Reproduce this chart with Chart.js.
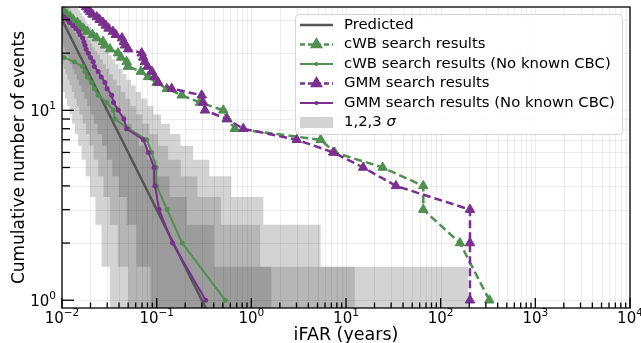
<!DOCTYPE html>
<html>
<head>
<meta charset="utf-8">
<script src="https://cdn.jsdelivr.net/npm/chart.js@4.4.0/dist/chart.umd.min.js"></script>
<style>
  html, body { margin: 0; padding: 0; background: #fff; }
  #wrap { width: 641px; height: 343px; }
</style>
</head>
<body>
<div id="wrap"><canvas id="c" width="641" height="343"></canvas></div>
<script>
// ---- data (x = iFAR in years, y = cumulative count) ----
const predIfar  = [0.01, 0.35];
const predCount = [30, 0.857];

// iFAR of the N-th loudest event, N = 1, 2, 3, ...
const cwbIfar = [327, 160, 65.5, 65.5, 24.4, 7.6, 5.4, 0.67, 0.56, 0.506, 0.287, 0.184, 0.128, 0.10,
  0.081, 0.068, 0.0497, 0.0482, 0.042, 0.0391, 0.0321, 0.0285, 0.0271, 0.0233, 0.021, 0.0185,
  0.0168, 0.0155, 0.0145, 0.0131, 0.0122, 0.0112, 0.0105, 0.0098];
const cwbNoCbcIfar = [0.53, 0.186, 0.129, 0.100, 0.099, 0.0885, 0.0785, 0.0502, 0.0363, 0.0348,
  0.0297, 0.0241, 0.022, 0.0205, 0.0185, 0.0175, 0.0165, 0.0135, 0.0105, 0.0095];
const gmmIfar = [204, 204, 204, 33.7, 15.2, 7.34, 3.02, 0.822, 0.549, 0.324, 0.31, 0.299, 0.144,
  0.104, 0.095, 0.089, 0.08, 0.075, 0.072, 0.0695, 0.05, 0.0463, 0.045, 0.043, 0.037, 0.0345,
  0.031, 0.029, 0.0271, 0.025, 0.0233, 0.021, 0.0198, 0.019, 0.018, 0.017];
const gmmNoCbcIfar = [0.33, 0.147, 0.106, 0.096, 0.094, 0.0816, 0.0722, 0.0482, 0.045, 0.0393,
  0.035, 0.0335, 0.03, 0.0284, 0.026, 0.0241, 0.022, 0.0214, 0.02, 0.019, 0.018, 0.0175, 0.017,
  0.0165, 0.0155, 0.015, 0.014, 0.013, 0.012, 0.0115, 0.0105, 0.0098];

// background bands: for count level n the band spans iFAR [left, right]
const levels = [1, 2, 3, 4, 5, 6, 7, 8, 9, 10, 11, 12, 13, 14, 15, 16, 17, 18, 19, 20, 21, 22, 23,
  24, 25, 26, 27, 28, 29, 30, 31, 32, 33, 34, 35, 36];
const sig1Left = [0.0864, 0.0614, 0.0482, 0.0398, 0.0340, 0.0297, 0.0265, 0.0238, 0.0217, 0.0200,
  0.0185, 0.0172, 0.0161, 0.0151, 0.0143, 0.0135, 0.0128, 0.0122, 0.0117, 0.0112, 0.0107, 0.0103,
  0.0099, 0.0095, 0.0092, 0.0089, 0.0086, 0.0083, 0.0081, 0.0078, 0.0076, 0.0074, 0.0072, 0.0070,
  0.0068, 0.0066];
const sig1Right = [1.64, 0.403, 0.208, 0.137, 0.100, 0.0787, 0.0645, 0.0545, 0.0471, 0.0414, 0.0368,
  0.0332, 0.0302, 0.0277, 0.0255, 0.0237, 0.0221, 0.0207, 0.0194, 0.0183, 0.0173, 0.0164, 0.0156,
  0.0149, 0.0142, 0.0136, 0.0131, 0.0125, 0.0121, 0.0116, 0.0112, 0.0108, 0.0104, 0.0101, 0.0098,
  0.0095];
const sig2Left = [0.0502, 0.0388, 0.0320, 0.0274, 0.0241, 0.0216, 0.0195, 0.0179, 0.0165, 0.0153,
  0.0143, 0.0135, 0.0127, 0.0120, 0.0114, 0.0109, 0.0104, 0.0099, 0.0095, 0.0092, 0.0088, 0.0085,
  0.0082, 0.0079, 0.0077, 0.0074, 0.0072, 0.0070, 0.0068, 0.0066, 0.0064, 0.0063, 0.0061, 0.0060,
  0.0058, 0.0057];
const sig2Right = [12.4, 1.24, 0.478, 0.269, 0.180, 0.132, 0.103, 0.0840, 0.0704, 0.0604, 0.0528,
  0.0467, 0.0418, 0.0378, 0.0344, 0.0316, 0.0291, 0.0270, 0.0252, 0.0236, 0.0222, 0.0209, 0.0197,
  0.0187, 0.0178, 0.0169, 0.0162, 0.0155, 0.0148, 0.0142, 0.0136, 0.0131, 0.0127, 0.0122, 0.0118,
  0.0114];
const sig3Left = [0.0320, 0.0262, 0.0225, 0.0198, 0.0178, 0.0161, 0.0148, 0.0137, 0.0128, 0.0120,
  0.0113, 0.0107, 0.0102, 0.0097, 0.0093, 0.0089, 0.0085, 0.0082, 0.0079, 0.0076, 0.0073, 0.0071,
  0.0068, 0.0066, 0.0064, 0.0062, 0.0060, 0.0059, 0.0057, 0.0056, 0.0054, 0.0053, 0.0052, 0.0050,
  0.0049, 0.0048];
const sig3Right = [196, 5.39, 1.34, 0.613, 0.360, 0.243, 0.178, 0.138, 0.111, 0.0924, 0.0794, 0.0686,
  0.0602, 0.0535, 0.0480, 0.0434, 0.0396, 0.0363, 0.0335, 0.0311, 0.0290, 0.0271, 0.0255, 0.0240,
  0.0226, 0.0214, 0.0204, 0.0194, 0.0185, 0.0176, 0.0169, 0.0162, 0.0155, 0.0149, 0.0144, 0.0138];

// axes
const xRange = [0.01, 1e4];
const yRange = [0.91, 35];
const xMajorExp = [-2, -1, 0, 1, 2, 3, 4];
const yMajorExp = [0, 1];

const GREEN = '#4f8f4f';
const PURPLE = '#7a2f8e';
const GREY = '#555555';
const BAND = 'rgba(128,128,128,0.35)';
const BAND_1SIG = 'rgba(128,128,128,0.48)';
const FONT = '"DejaVu Sans", Verdana, sans-serif';

const toPts = (xs, ys) => xs.map((x, i) => ({ x, y: ys ? ys[i] : i + 1 }));

function bandPair(left, right, color) {
  const top = levels.length - 1;
  const upper = [{ x: left[top], y: levels[top] + 0.5 }];
  const lower = [];
  for (let i = top; i >= 0; i--) {
    const n = levels[i];
    upper.push({ x: right[i], y: n + 0.5 }, { x: right[i], y: n - 0.5 });
    lower.push({ x: left[i], y: n + 0.5 }, { x: left[i], y: n - 0.5 });
  }
  lower.push({ x: right[0], y: levels[0] - 0.5 });
  const base = { borderColor: 'rgba(0,0,0,0)', borderWidth: 0, pointRadius: 0, tension: 0 };
  return [
    { ...base, data: upper, fill: '+1', backgroundColor: color, band: true },
    { ...base, data: lower, fill: false, band: true }
  ];
}

const datasets = [
  { label: 'GMM search results (No known CBC)', data: toPts(gmmNoCbcIfar), borderColor: PURPLE,
    backgroundColor: PURPLE, borderWidth: 2, pointRadius: 2.5, pointBorderWidth: 0, fill: false },
  { label: 'GMM search results', data: toPts(gmmIfar), borderColor: PURPLE, backgroundColor: PURPLE,
    borderWidth: 2.5, borderDash: [8, 4], pointStyle: 'triangle', pointRadius: 5.5, pointBorderWidth: 1, fill: false },
  { label: 'cWB search results (No known CBC)', data: toPts(cwbNoCbcIfar), borderColor: GREEN,
    backgroundColor: GREEN, borderWidth: 2, pointRadius: 2.5, pointBorderWidth: 0, fill: false },
  { label: 'cWB search results', data: toPts(cwbIfar), borderColor: GREEN, backgroundColor: GREEN,
    borderWidth: 2.5, borderDash: [8, 4], pointStyle: 'triangle', pointRadius: 5.5, pointBorderWidth: 1, fill: false },
  { label: 'Predicted', data: toPts(predIfar, predCount), borderColor: GREY, borderWidth: 2.5,
    pointRadius: 0, fill: false },
  ...bandPair(sig1Left, sig1Right, BAND_1SIG),
  ...bandPair(sig2Left, sig2Right, BAND),
  ...bandPair(sig3Left, sig3Right, BAND)
];
const firstBand = datasets.findIndex(d => d.band);

function minorValues(range) {
  const out = [];
  for (let e = Math.floor(Math.log10(range[0])); e <= Math.ceil(Math.log10(range[1])); e++) {
    for (let m = 1; m < 10; m++) {
      const v = m * Math.pow(10, e);
      if (v >= range[0] * 0.999 && v <= range[1] * 1.001) out.push({ v, major: m === 1 });
    }
  }
  return out;
}

function drawPow(ctx, exp, x, y, align) {
  const base = '10';
  const sup = exp < 0 ? '\u2212' + Math.abs(exp) : String(exp);
  ctx.font = '15px ' + FONT;
  const wb = ctx.measureText(base).width;
  ctx.font = '10.5px ' + FONT;
  const ws = ctx.measureText(sup).width;
  const total = wb + ws;
  let x0 = align === 'center' ? x - total / 2 : x - total;
  ctx.textAlign = 'left';
  ctx.textBaseline = 'alphabetic';
  ctx.font = '15px ' + FONT;
  ctx.fillText(base, x0, y);
  ctx.font = '10.5px ' + FONT;
  ctx.fillText(sup, x0 + wb, y - 6.5);
}

const figure = {
  id: 'figure',
  afterDatasetDraw(chart, args) {
    if (args.index !== firstBand) return;
    // grid sits above the bands, below the curves
    const { ctx, chartArea: a, scales: { x, y } } = chart;
    ctx.save();
    ctx.strokeStyle = 'rgba(0,0,0,0.07)';
    ctx.lineWidth = 1;
    minorValues(xRange).forEach(t => {
      const px = Math.round(x.getPixelForValue(t.v)) + 0.5;
      ctx.beginPath(); ctx.moveTo(px, a.top); ctx.lineTo(px, a.bottom); ctx.stroke();
    });
    minorValues(yRange).forEach(t => {
      const py = Math.round(y.getPixelForValue(t.v)) + 0.5;
      ctx.beginPath(); ctx.moveTo(a.left, py); ctx.lineTo(a.right, py); ctx.stroke();
    });
    ctx.restore();
  },
  afterDraw(chart) {
    const { ctx, chartArea: a, scales: { x, y } } = chart;
    ctx.save();
    ctx.strokeStyle = '#000';
    ctx.lineWidth = 1.3;
    ctx.strokeRect(a.left, a.top, a.right - a.left, a.bottom - a.top);
    // inward ticks
    minorValues(xRange).forEach(t => {
      const px = x.getPixelForValue(t.v);
      const len = t.major ? 10 : 5.5;
      ctx.beginPath(); ctx.moveTo(px, a.bottom); ctx.lineTo(px, a.bottom - len); ctx.stroke();
    });
    minorValues(yRange).forEach(t => {
      const py = y.getPixelForValue(t.v);
      const len = t.major ? 12 : 8;
      ctx.beginPath(); ctx.moveTo(a.left, py); ctx.lineTo(a.left + len, py); ctx.stroke();
    });
    // tick labels
    ctx.fillStyle = '#000';
    xMajorExp.forEach(e => drawPow(ctx, e, x.getPixelForValue(Math.pow(10, e)), a.bottom + 14.5, 'center'));
    yMajorExp.forEach(e => drawPow(ctx, e, a.left - 6, y.getPixelForValue(Math.pow(10, e)) + 5.5, 'right'));
    // axis titles
    ctx.font = '17.5px ' + FONT;
    ctx.textAlign = 'center';
    ctx.textBaseline = 'alphabetic';
    ctx.fillText('iFAR (years)', (a.left + a.right) / 2, 340);
    ctx.save();
    ctx.translate(24, (a.top + a.bottom) / 2);
    ctx.rotate(-Math.PI / 2);
    ctx.font = '17px ' + FONT;
    ctx.fillText('Cumulative number of events', 0, 0);
    ctx.restore();
    drawLegend(ctx);
    ctx.restore();
  }
};

function drawLegend(ctx) {
  const bx = 295, by = 14, bw = 327, bh = 120, r = 4;
  ctx.save();
  ctx.beginPath();
  ctx.roundRect(bx + 0.5, by + 0.5, bw, bh, r);
  ctx.fillStyle = 'rgba(255,255,255,0.85)';
  ctx.fill();
  ctx.strokeStyle = '#d4d4d4';
  ctx.lineWidth = 1;
  ctx.stroke();
  const rows = [
    { text: 'Predicted', ds: datasets[4] },
    { text: 'cWB search results', ds: datasets[3] },
    { text: 'cWB search results (No known CBC)', ds: datasets[2] },
    { text: 'GMM search results', ds: datasets[1] },
    { text: 'GMM search results (No known CBC)', ds: datasets[0] },
    { text: '1,2,3 ', sigma: true }
  ];
  const x0 = 300, x1 = 333, tx = 344;
  rows.forEach((row, i) => {
    const cy = by + 11 + i * 19.5;
    if (row.sigma) {
      ctx.fillStyle = BAND;
      ctx.fillRect(x0, cy - 5.5, x1 - x0, 11);
    } else {
      const ds = row.ds;
      ctx.strokeStyle = ds.borderColor;
      ctx.lineWidth = ds.borderWidth;
      ctx.setLineDash(ds.borderDash ? [5, 3] : []);
      ctx.beginPath(); ctx.moveTo(x0, cy); ctx.lineTo(x1, cy); ctx.stroke();
      ctx.setLineDash([]);
      if (ds.pointRadius > 0) {
        ctx.fillStyle = ds.backgroundColor;
        ctx.strokeStyle = ds.borderColor;
        Chart.helpers.drawPoint(ctx, {
          pointStyle: ds.pointStyle || 'circle', radius: ds.pointStyle ? 5 : 2,
          borderWidth: ds.pointBorderWidth, rotation: 0
        }, (x0 + x1) / 2, cy);
      }
    }
    ctx.fillStyle = '#000';
    ctx.font = '14.85px ' + FONT;
    ctx.textAlign = 'left';
    ctx.textBaseline = 'middle';
    ctx.fillText(row.text, tx, cy);
    if (row.sigma) {
      const w = ctx.measureText(row.text).width;
      ctx.font = 'italic 14.85px ' + FONT;
      ctx.fillText('\u03c3', tx + w, cy);
    }
  });
  ctx.restore();
}

new Chart(document.getElementById('c'), {
  type: 'line',
  data: { datasets },
  options: {
    responsive: false,
    animation: false,
    devicePixelRatio: 1,
    layout: { padding: { left: 62, right: 11, top: 7, bottom: 35 } },
    plugins: { legend: { display: false }, tooltip: { enabled: false } },
    elements: { line: { tension: 0 } },
    scales: {
      x: { type: 'logarithmic', min: xRange[0], max: xRange[1], display: false },
      y: { type: 'logarithmic', min: yRange[0], max: yRange[1], display: false }
    }
  },
  plugins: [figure]
});
</script>
</body>
</html>
